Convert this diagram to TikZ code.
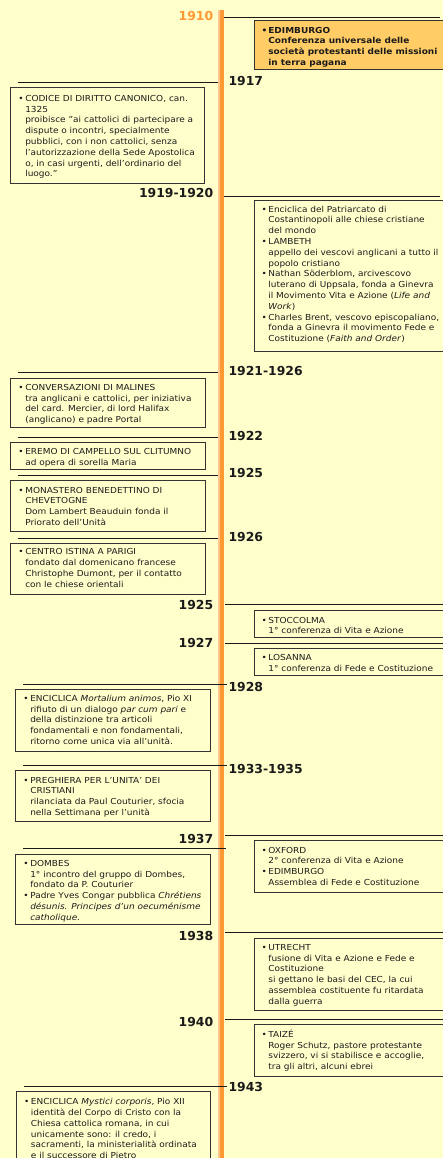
\documentclass[tikz,border=0pt]{standalone}
\usepackage{fontspec}
\setmainfont{DejaVu Sans}[FakeStretch=1.085]
\newfontfamily\yearfam{DejaVu Sans}
\usetikzlibrary{fit}
\definecolor{bg}{HTML}{FFFFCC}
\definecolor{hilite}{HTML}{FFCC66}
\definecolor{barorange}{HTML}{FF9933}
\definecolor{barlight}{HTML}{FFC58A}
\definecolor{ink}{HTML}{1A1A1A}
\definecolor{frame}{HTML}{333333}
\newcommand\evfont{\fontsize{6.2}{8.1}\selectfont}
\newcommand\yearfont{\yearfam\fontsize{9.3}{11}\selectfont\bfseries}
\newcommand\bu{•}
\newcommand\evlist[1]{\begin{tabular}[t]{@{}p{5.1pt}@{}l@{}}#1\end{tabular}}
\tikzset{
  evbox/.style={draw=frame, line width=0.75pt, fill=bg, inner sep=0pt, rectangle},
  hibox/.style={evbox, fill=hilite},
  evtext/.style={inner sep=0pt, anchor=base west, text=ink, font=\evfont},
  yearr/.style={inner sep=0pt, anchor=base east, font=\yearfont, text=ink},
  yearl/.style={inner sep=0pt, anchor=base west, font=\yearfont, text=ink},
  tick/.style={draw=ink, line width=0.75pt},
}
\begin{document}
\begin{tikzpicture}[x=0.75pt, y=-0.75pt]
\useasboundingbox (0,0) rectangle (443,1158);
\clip (0,0) rectangle (443,1158);
\fill[bg] (0,0) rectangle (443,1158);

% tick coordinates
\coordinate (a1910) at (220,17.3);   \coordinate (b1910) at (440,17.3);
\coordinate (a1917) at (18.3,82);    \coordinate (b1917) at (220,82);
\coordinate (a1919) at (220,196.5);  \coordinate (b1919) at (440,196.5);
\coordinate (a1921) at (18.3,372.7); \coordinate (b1921) at (220,372.7);
\coordinate (a1922) at (18.3,437.3); \coordinate (b1922) at (220,437.3);
\coordinate (a1925a) at (18.3,475.3); \coordinate (b1925a) at (220,475.3);
\coordinate (a1926) at (18.3,538.3); \coordinate (b1926) at (220,538.3);
\coordinate (a1925b) at (225,604.7); \coordinate (b1925b) at (445,604.7);
\coordinate (a1927) at (225,643);    \coordinate (b1927) at (445,643);
\coordinate (a1928) at (23.3,684.3); \coordinate (b1928) at (226.7,684.3);
\coordinate (a1933) at (23.3,765);   \coordinate (b1933) at (226.7,765);
\coordinate (a1937r) at (225,835.3); \coordinate (b1937r) at (445,835.3);
\coordinate (a1937l) at (23.3,848.3); \coordinate (b1937l) at (226,848.3);
\coordinate (a1938) at (225,932.7);  \coordinate (b1938) at (445,932.7);
\coordinate (a1940) at (225,1019.3); \coordinate (b1940) at (445,1019.3);
\coordinate (a1943) at (24,1086);    \coordinate (b1943) at (226.7,1086);

% ticks under the bar
\foreach \t in {1910,1917,1919,1921,1922,1925a,1926,1925b,1927,1937r,1938,1940}
  \draw[tick] (a\t) -- (b\t);

% timeline bar
\fill[barlight] (218.3,10) rectangle (219.6,1160);
\fill[barorange] (219.5,10) rectangle (224,1160);

% ticks over the bar
\foreach \t in {1928,1933,1937l,1943}
  \draw[tick] (a\t) -- (b\t);

% boxes
\node[hibox, fit={(254,20.7) (450,69.3)}] (B1910) {};
\node[evbox, fit={(10,87.7) (204.7,183.3)}] (B1917) {};
\node[evbox, fit={(254,200) (450,351)}] (B1919) {};
\node[evbox, fit={(10.7,378.3) (205,427.3)}] (B1921) {};
\node[evbox, fit={(10.7,442.7) (205,469.3)}] (B1922) {};
\node[evbox, fit={(10.7,480.7) (205,531.7)}] (B1925a) {};
\node[evbox, fit={(10.7,543.3) (205,594)}] (B1926) {};
\node[evbox, fit={(254,610.7) (450,637.3)}] (B1925b) {};
\node[evbox, fit={(254,648.3) (450,675.7)}] (B1927) {};
\node[evbox, fit={(15.7,689.3) (210.7,751.7)}] (B1928) {};
\node[evbox, fit={(15.7,770.7) (210.7,821.7)}] (B1933) {};
\node[evbox, fit={(254,840.7) (450,892.3)}] (B1937r) {};
\node[evbox, fit={(15.7,854) (210.7,924.3)}] (B1937l) {};
\node[evbox, fit={(254,938.3) (450,1010.7)}] (B1938) {};
\node[evbox, fit={(254,1024.7) (450,1076)}] (B1940) {};
\node[evbox, fit={(16.7,1091.7) (210.7,1175)}] (B1943) {};

% texts
\node[evtext] (T1910) at (261.3,33) {\bfseries\evlist{%
\bu & EDIMBURGO\\
 & Conferenza universale delle\\
 & società protestanti delle missioni\\
 & in terra pagana}};
\node[evtext] (T1917) at (18.2,101.3) {\evlist{%
\bu & CODICE DI DIRITTO CANONICO, can.\\
 & 1325\\
 & proibisce "ai cattolici di partecipare a\\
 & dispute o incontri, specialmente\\
 & pubblici, con i non cattolici, senza\\
 & l’autorizzazione della Sede Apostolica\\
 & o, in casi urgenti, dell’ordinario del\\
 & luogo.”}};
\node[evtext] (T1919) at (261.3,212) {\evlist{%
\bu & Enciclica del Patriarcato di\\
 & Costantinopoli alle chiese cristiane\\
 & del mondo\\
\bu & LAMBETH\\
 & appello dei vescovi anglicani a tutto il\\
 & popolo cristiano\\
\bu & Nathan Söderblom, arcivescovo\\
 & luterano di Uppsala, fonda a Ginevra\\
 & il Movimento Vita e Azione (\textit{Life and}\\
 & \textit{Work})\\
\bu & Charles Brent, vescovo episcopaliano,\\
 & fonda a Ginevra il movimento Fede e\\
 & Costituzione (\textit{Faith and Order})}};
\node[evtext] (T1921) at (18.2,390.3) {\evlist{%
\bu & CONVERSAZIONI DI MALINES\\
 & tra anglicani e cattolici, per iniziativa\\
 & del card. Mercier, di lord Halifax\\
 & (anglicano) e padre Portal}};
\node[evtext] (T1922) at (18.2,454.7) {\evlist{%
\bu & EREMO DI CAMPELLO SUL CLITUMNO\\
 & ad opera di sorella Maria}};
\node[evtext] (T1925a) at (18.2,493) {\evlist{%
\bu & MONASTERO BENEDETTINO DI\\
 & CHEVETOGNE\\
 & Dom Lambert Beauduin fonda il\\
 & Priorato dell’Unità}};
\node[evtext] (T1926) at (18.2,554.7) {\evlist{%
\bu & CENTRO ISTINA A PARIGI\\
 & fondato dal domenicano francese\\
 & Christophe Dumont, per il contatto\\
 & con le chiese orientali}};
\node[evtext] (T1925b) at (261.3,623) {\evlist{%
\bu & STOCCOLMA\\
 & 1° conferenza di Vita e Azione}};
\node[evtext] (T1927) at (261.3,660.7) {\evlist{%
\bu & LOSANNA\\
 & 1° conferenza di Fede e Costituzione}};
\node[evtext] (T1928) at (23.2,701.3) {\evlist{%
\bu & ENCICLICA \textit{Mortalium animos}, Pio XI\\
 & rifiuto di un dialogo \textit{par cum pari} e\\
 & della distinzione tra articoli\\
 & fondamentali e non fondamentali,\\
 & ritorno come unica via all’unità.}};
\node[evtext] (T1933) at (23.2,783) {\evlist{%
\bu & PREGHIERA PER L’UNITA’ DEI\\
 & CRISTIANI\\
 & rilanciata da Paul Couturier, sfocia\\
 & nella Settimana per l’unità}};
\node[evtext] (T1937r) at (261.3,853) {\evlist{%
\bu & OXFORD\\
 & 2° conferenza di Vita e Azione\\
\bu & EDIMBURGO\\
 & Assemblea di Fede e Costituzione}};
\node[evtext] (T1937l) at (23.2,866.3) {\evlist{%
\bu & DOMBES\\
 & 1° incontro del gruppo di Dombes,\\
 & fondato da P. Couturier\\
\bu & Padre Yves Congar pubblica \textit{Chrétiens}\\
 & \textit{désunis. Principes d’un oecuménisme}\\
 & \textit{catholique.}}};
\node[evtext] (T1938) at (261.3,950.3) {\evlist{%
\bu & UTRECHT\\
 & fusione di Vita e Azione e Fede e\\
 & Costituzione\\
 & si gettano le basi del CEC, la cui\\
 & assemblea costituente fu ritardata\\
 & dalla guerra}};
\node[evtext] (T1940) at (261.3,1037.3) {\evlist{%
\bu & TAIZÉ\\
 & Roger Schutz, pastore protestante\\
 & svizzero, vi si stabilisce e accoglie,\\
 & tra gli altri, alcuni ebrei}};
\node[evtext] (T1943) at (23.9,1104.7) {\evlist{%
\bu & ENCICLICA \textit{Mystici corporis}, Pio XII\\
 & identità del Corpo di Cristo con la\\
 & Chiesa cattolica romana, in cui\\
 & unicamente sono: il credo, i\\
 & sacramenti, la ministerialità ordinata\\
 & e il successore di Pietro}};

% years
\node[yearr, text=barorange] (Y1910) at (213.5,20.2) {1910};
\node[yearl] (Y1917) at (228.3,85.2) {1917};
\node[yearr] (Y1919) at (213.5,197.2) {1919-1920};
\node[yearl] (Y1921) at (228.3,375.2) {1921-1926};
\node[yearl] (Y1922) at (228.3,440.5) {1922};
\node[yearl] (Y1925a) at (228.3,477.8) {1925};
\node[yearl] (Y1926) at (228.3,541.2) {1926};
\node[yearr] (Y1925b) at (213.5,609.5) {1925};
\node[yearr] (Y1927) at (213.5,647.8) {1927};
\node[yearl] (Y1928) at (228.3,691.8) {1928};
\node[yearl] (Y1933) at (228.3,773.5) {1933-1935};
\node[yearr] (Y1937) at (213.5,843.5) {1937};
\node[yearr] (Y1938) at (213.5,940.2) {1938};
\node[yearr] (Y1940) at (213.5,1026.8) {1940};
\node[yearl] (Y1943) at (228.3,1091.8) {1943};
\end{tikzpicture}
\end{document}
